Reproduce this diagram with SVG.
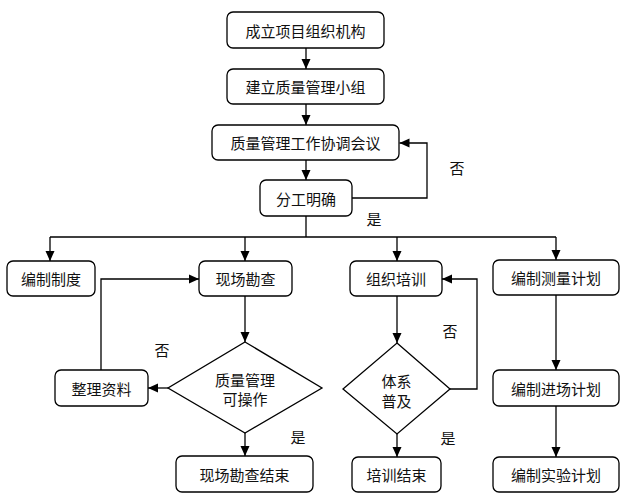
<svg xmlns="http://www.w3.org/2000/svg" width="634" height="501" viewBox="0 0 634 501">
<style>
.n rect,.n polygon{fill:#fff;stroke:#000;stroke-width:1.3}
text{font-family:"Noto Sans CJK SC","Liberation Sans",sans-serif;font-size:15px;fill:#111;text-anchor:middle;dominant-baseline:central}
.c{fill:none;stroke:#000;stroke-width:1.3}
.a{marker-end:url(#ah)}
</style>
<defs>
<marker id="ah" markerUnits="userSpaceOnUse" markerWidth="10" markerHeight="10" refX="10" refY="5" orient="auto" viewBox="0 0 10 10">
<path d="M0,0.5 L10,5 L0,9.5 z" fill="#000"/>
</marker>
</defs>
<g id="connectors">
<path class="c a" d="M306,48 V69"/>
<path class="c a" d="M306,104 V125"/>
<path class="c a" d="M306,160 V180"/>
<path class="c a" d="M352,198 H427 V143 H399.5"/>
<path class="c" d="M306,216 V237 M50,237 H556"/>
<path class="c a" d="M50,237 V261"/>
<path class="c a" d="M245,237 V261"/>
<path class="c a" d="M397,237 V261"/>
<path class="c a" d="M556,237 V260"/>
<path class="c a" d="M245,296 V342"/>
<path class="c a" d="M168,388 H148"/>
<path class="c a" d="M101,370 V279 H199"/>
<path class="c a" d="M245,433 V456"/>
<path class="c a" d="M397,296 V343"/>
<path class="c a" d="M450,389 H477 V279 H442"/>
<path class="c a" d="M397,434 V457"/>
<path class="c a" d="M556,295 V370"/>
<path class="c a" d="M556,406 V457"/>
<text x="457" y="167">否</text>
<text x="374" y="218">是</text>
<text x="162" y="349">否</text>
<text x="298" y="436">是</text>
<text x="450" y="330">否</text>
<text x="448" y="437">是</text>
</g>
<g id="n1" class="n"><rect x="227" y="12" width="157" height="36" rx="6"/><text x="305.5" y="30">成立项目组织机构</text></g>
<g id="n2" class="n"><rect x="227" y="69" width="157" height="35" rx="6"/><text x="305.5" y="86.5">建立质量管理小组</text></g>
<g id="n3" class="n"><rect x="212" y="125" width="187" height="35" rx="6"/><text x="305.5" y="142.5">质量管理工作协调会议</text></g>
<g id="n4" class="n"><rect x="260" y="180" width="92" height="36" rx="6"/><text x="306" y="198">分工明确</text></g>
<g id="n5" class="n"><rect x="7" y="261" width="88" height="35" rx="6"/><text x="51" y="278.5">编制制度</text></g>
<g id="n6" class="n"><rect x="199" y="261" width="93" height="35" rx="6"/><text x="245.5" y="278.5">现场勘查</text></g>
<g id="n7" class="n"><rect x="350" y="261" width="92" height="35" rx="6"/><text x="396" y="278.5">组织培训</text></g>
<g id="n8" class="n"><rect x="493" y="260" width="126" height="35" rx="6"/><text x="556" y="277.5">编制测量计划</text></g>
<g id="n9" class="n"><polygon points="245,342 322,388 245,433 168,388"/><text x="245" y="379">质量管理</text><text x="245" y="398">可操作</text></g>
<g id="n10" class="n"><rect x="55" y="370" width="93" height="36" rx="6"/><text x="101.5" y="388">整理资料</text></g>
<g id="n11" class="n"><polygon points="397,343 450,389 397,434 343,389"/><text x="396.5" y="380">体系</text><text x="396.5" y="400">普及</text></g>
<g id="n12" class="n"><rect x="493" y="370" width="126" height="36" rx="6"/><text x="556" y="388">编制进场计划</text></g>
<g id="n13" class="n"><rect x="176" y="456" width="137" height="36" rx="6"/><text x="244.5" y="474">现场勘查结束</text></g>
<g id="n14" class="n"><rect x="352" y="457" width="89" height="35" rx="6"/><text x="396.5" y="474.5">培训结束</text></g>
<g id="n15" class="n"><rect x="493" y="457" width="126" height="35" rx="6"/><text x="556" y="474.5">编制实验计划</text></g>
</svg>
